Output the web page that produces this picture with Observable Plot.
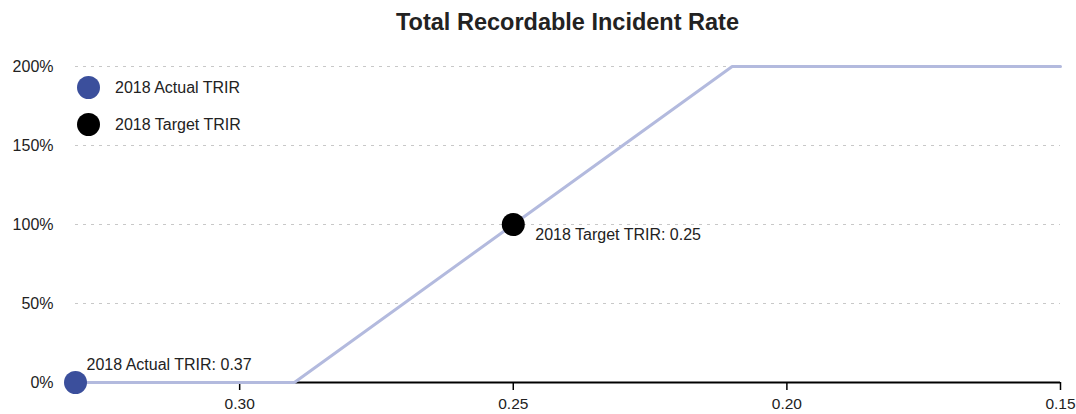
<!DOCTYPE html>
<html>
<head>
<meta charset="utf-8">
<script src="https://cdn.jsdelivr.net/npm/d3@7"></script>
<script src="https://cdn.jsdelivr.net/npm/@observablehq/plot@0.6"></script>
<style>
  html, body { margin: 0; padding: 0; background: #fff; }
  body { font-family: "Liberation Sans", Arial, Helvetica, sans-serif; color: #222; }
  #wrap { position: relative; width: 1076px; height: 414px; overflow: hidden; }
  #title { margin-left: 75px; width: 985px; height: 40px; line-height: 40px; padding-top: 2px; box-sizing: border-box;
           text-align: center; font-weight: bold; font-size: 23.5px; color: #222; }
  .legend { position: absolute; left: 77px; display: flex; align-items: center; font-size: 16px; color: #222; }
  .legend .sw { width: 23px; height: 23px; border-radius: 50%; margin-right: 15px; }
</style>
</head>
<body>
<div id="wrap">
  <div id="title">Total Recordable Incident Rate</div>
  <div id="chart"></div>
  <div id="legend"></div>
</div>
<script>
// Data
const curveTRIR = [0.37, 0.29, 0.25, 0.21, 0.15];
const curvePct = [0, 0, 100, 200, 200];
const pointLabels = ["2018 Actual TRIR", "2018 Target TRIR"];
const pointTRIR = [0.37, 0.25];
const pointPct = [0, 100];
const pointColors = ["#3b4f9c", "#000000"];
const xTicks = [0.30, 0.25, 0.20, 0.15];
const yTicks = [0, 50, 100, 150, 200];
const gridTicks = [50, 100, 150, 200];

const curve = curveTRIR.map((x, i) => ({x, y: curvePct[i]}));
const points = pointLabels.map((name, i) => ({name, x: pointTRIR[i], y: pointPct[i], color: pointColors[i]}));

const font = '"Liberation Sans", Arial, Helvetica, sans-serif';

const chart = Plot.plot({
  width: 1076,
  height: 374,
  marginTop: 26,
  marginBottom: 32,
  marginLeft: 75,
  marginRight: 16,
  style: {fontFamily: font, color: "#222", background: "#fff"},
  x: {domain: [0.33, 0.15], clamp: true},
  y: {domain: [0, 200]},
  marks: [
    Plot.gridY(gridTicks, {stroke: "#c8c8c8", strokeOpacity: 1, strokeDasharray: "3,5"}),
    Plot.axisY(yTicks, {tickSize: 0, tickPadding: 22, fontSize: 16, tickFormat: d => d + "%", label: null}),
    Plot.ruleY([0], {stroke: "#000", strokeWidth: 2}),
    Plot.axisX(xTicks, {tickSize: 8, tickPadding: 7, fontSize: 15.5, tickFormat: d3.format(".2f"), stroke: "#000", strokeWidth: 1.5, label: null}),
    Plot.line(curve, {x: "x", y: "y", stroke: "#b3bade", strokeWidth: 3}),
    Plot.dot(points, {x: "x", y: "y", r: 11.5, fill: "color", stroke: null}),
    Plot.text([points[0]], {x: "x", y: "y", text: d => `${d.name}: ${d.x.toFixed(2)}`, textAnchor: "start", dx: 11, dy: -18, fontSize: 16, fill: "#222"}),
    Plot.text([points[1]], {x: "x", y: "y", text: d => `${d.name}: ${d.x.toFixed(2)}`, textAnchor: "start", dx: 22, dy: 10, fontSize: 16, fill: "#222"})
  ]
});
document.getElementById("chart").appendChild(chart);

// Legend (HTML overlay)
const legend = document.getElementById("legend");
const legendTops = [76, 113];
points.forEach((p, i) => {
  const row = document.createElement("div");
  row.className = "legend";
  row.style.top = legendTops[i] + "px";
  const sw = document.createElement("span");
  sw.className = "sw";
  sw.style.background = p.color;
  const label = document.createElement("span");
  label.textContent = p.name;
  row.appendChild(sw);
  row.appendChild(label);
  legend.appendChild(row);
});
</script>
</body>
</html>
